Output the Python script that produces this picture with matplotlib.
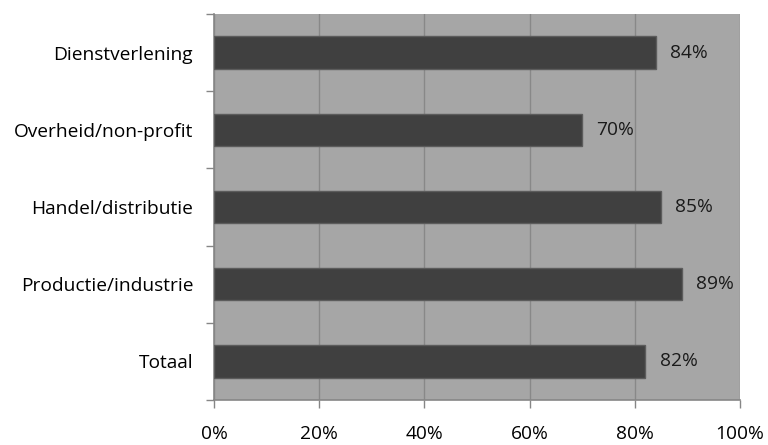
import matplotlib
matplotlib.use("Agg")
import matplotlib.pyplot as plt
from matplotlib.ticker import FixedLocator, PercentFormatter

categories = ["Totaal", "Productie/industrie", "Handel/distributie",
              "Overheid/non-profit", "Dienstverlening"]
values = [82, 89, 85, 70, 84]
xticks = [0, 20, 40, 60, 80, 100]

plt.rcParams["font.family"] = ["Open Sans", "DejaVu Sans"]
FS = 13.8

fig = plt.figure(figsize=(7.68, 4.45), dpi=100)
ax = fig.add_axes([214 / 768, 45 / 445, 526 / 768, 386 / 445])
ax.set_facecolor("#a6a6a6")

pos = list(range(len(categories)))
ax.barh(pos, values, height=0.42, color="#404040", edgecolor="#5c5c5c",
        linewidth=1, zorder=3)
for p, v in zip(pos, values):
    ax.text(v + 2.7, p, f"{v}%", va="center", ha="left", fontsize=FS,
            color="#1a1a1a", zorder=4)

ax.set_xlim(0, 100)
ax.set_ylim(-0.5, len(categories) - 0.5)
ax.set_xticks(xticks)
ax.xaxis.set_major_formatter(PercentFormatter(decimals=0))
ax.set_yticks(pos)
ax.set_yticklabels(categories)
ax.yaxis.set_minor_locator(FixedLocator([i - 0.5 for i in range(len(categories) + 1)]))

ax.grid(axis="x", color="#888888", linewidth=1, zorder=1)
ax.tick_params(axis="y", which="major", length=0, pad=15, labelsize=FS)
ax.tick_params(axis="y", which="minor", length=6, color="#868686", width=1)
ax.tick_params(axis="x", length=6, color="#868686", width=1, pad=12, labelsize=FS)

for side in ["top", "right"]:
    ax.spines[side].set_visible(False)
for side in ["left", "bottom"]:
    ax.spines[side].set_color("#868686")
    ax.spines[side].set_linewidth(1.2)

fig.savefig("out.png", dpi=100)
